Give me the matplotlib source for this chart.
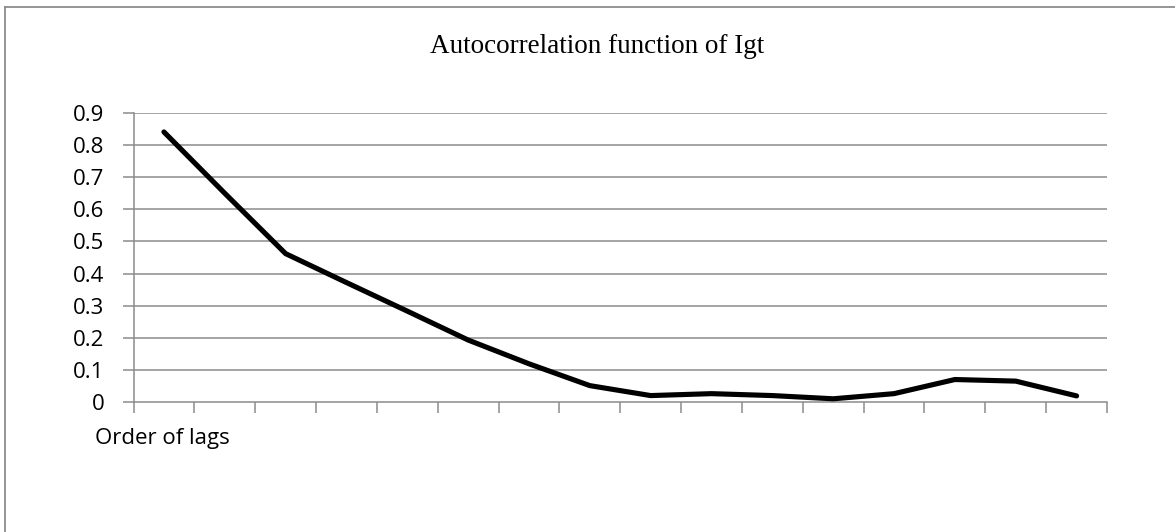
import matplotlib
matplotlib.use('Agg')
import matplotlib.pyplot as plt
from matplotlib.lines import Line2D

lags = list(range(1, 17))
acf = [0.841, 0.65, 0.462, 0.372, 0.283, 0.193, 0.119, 0.051,
       0.02, 0.026, 0.02, 0.01, 0.026, 0.07, 0.065, 0.019]
yticks = [0, 0.1, 0.2, 0.3, 0.4, 0.5, 0.6, 0.7, 0.8, 0.9]
yticklabels = ['0', '0.1', '0.2', '0.3', '0.4', '0.5', '0.6', '0.7', '0.8', '0.9']

W, H = 1175, 532
fig = plt.figure(figsize=(W / 100, H / 100), dpi=100)
ax = fig.add_axes([133.5 / W, 1 - 402 / H, (1107 - 133.5) / W, (402 - 113) / H])

grid_col = '#8c8c8c'
for v in yticks[1:]:
    ax.axhline(v, color=grid_col, lw=1.1, zorder=1)

xs = [i - 1 for i in lags]
ax.plot(xs, acf, color='black', lw=3.7, solid_capstyle='round', solid_joinstyle='round', zorder=3)

ax.set_xlim(-0.5, 15.5)
ax.set_ylim(0, 0.9)
ax.set_xticks([i - 0.5 for i in range(17)])
ax.set_xticklabels([])
ax.set_yticks(yticks)
ax.set_yticklabels(yticklabels, fontfamily='Open Sans', fontsize=16)
ax.tick_params(axis='both', direction='out', length=8, width=1.1, color=grid_col)
ax.tick_params(axis='y', pad=13)
for s in ['top', 'right']:
    ax.spines[s].set_visible(False)
for s in ['left', 'bottom']:
    ax.spines[s].set_color(grid_col)
    ax.spines[s].set_linewidth(1.1)
ax.patch.set_visible(False)

fig.text(597 / W, 1 - 53 / H, 'Autocorrelation function of Igt', ha='center', va='baseline',
         fontfamily='Liberation Serif', fontsize=19.5)
fig.text(95 / W, 1 - 444 / H, 'Order of lags', ha='left', va='baseline',
         fontfamily='Open Sans', fontsize=16)

# outer chart border (only top and left visible)
fig.add_artist(Line2D([5 / W, 1], [1 - 6.5 / H, 1 - 6.5 / H], color='#8c8c8c', lw=1.3))
fig.add_artist(Line2D([5 / W, 5 / W], [0, 1 - 6.5 / H], color='#8c8c8c', lw=1.3))

plt.savefig('out.png', dpi=100)
